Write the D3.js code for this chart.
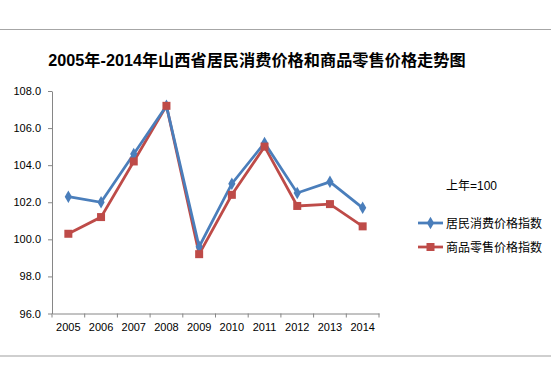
<!DOCTYPE html>
<html>
<head>
<meta charset="utf-8">
<script src="https://cdn.jsdelivr.net/npm/d3@7"></script>
<style>
body { margin: 0; background: #fff; }
text { font-family: "Liberation Sans", "Noto Sans CJK SC", sans-serif; fill: #000; }
.axis path, .axis line { stroke: #868686; }
.axis text { font-size: 11px; }
</style>
</head>
<body>
<script>
var years = ["2005","2006","2007","2008","2009","2010","2011","2012","2013","2014"];
var cpi = [102.3, 102.0, 104.6, 107.2, 99.6, 103.0, 105.2, 102.5, 103.1, 101.7];
var rpi = [100.3, 101.2, 104.2, 107.2, 99.2, 102.4, 105.0, 101.8, 101.9, 100.7];
var seriesNames = ["居民消费价格指数", "商品零售价格指数"];
var yTicks = [96, 98, 100, 102, 104, 106, 108];

var svg = d3.select("body").append("svg").attr("width", 551).attr("height", 389);

// frame lines top and bottom
svg.append("line").attr("x1", 0).attr("x2", 551).attr("y1", 29.5).attr("y2", 29.5)
   .attr("stroke", "#a6a6a6").attr("stroke-width", 1);
svg.append("line").attr("x1", 0).attr("x2", 551).attr("y1", 356).attr("y2", 356)
   .attr("stroke", "#bfbfbf").attr("stroke-width", 1.5);

svg.append("text")
   .attr("x", 257).attr("y", 66)
   .attr("text-anchor", "middle")
   .style("font-size", "16.2px").style("font-weight", "bold")
   .text("2005年-2014年山西省居民消费价格和商品零售价格走势图");

var x = d3.scaleBand().domain(years).range([52, 379]);
var y = d3.scaleLinear().domain([96, 108]).range([313.5, 91]);

svg.append("g").attr("class", "axis")
   .attr("transform", "translate(52,0)")
   .call(d3.axisLeft(y).tickValues(yTicks).tickFormat(d3.format(".1f")).tickSize(4).tickSizeOuter(0))
   .call(function(g) { g.selectAll("text").attr("x", -11).style("font-size", "11px"); });

var xAxis = svg.append("g").attr("class", "axis")
   .attr("transform", "translate(0,313.5)")
   .call(d3.axisBottom(x).tickSize(0).tickSizeOuter(0));
xAxis.selectAll("text").attr("dy", "1.3em");
// tick marks between categories
xAxis.selectAll(".sep").data(years.concat(["end"])).enter().append("line")
   .attr("x1", function(d, i) { return 52 + i * x.step(); })
   .attr("x2", function(d, i) { return 52 + i * x.step(); })
   .attr("y1", 0).attr("y2", 4).attr("stroke", "#868686");

var line = d3.line()
   .x(function(d, i) { return x(years[i]) + x.bandwidth() / 2; })
   .y(function(d) { return y(d); });

var colors = ["#4a7ebb", "#be4b48"];

svg.append("path").datum(rpi).attr("d", line)
   .attr("fill", "none").attr("stroke", colors[1]).attr("stroke-width", 2.75);
svg.append("path").datum(cpi).attr("d", line)
   .attr("fill", "none").attr("stroke", colors[0]).attr("stroke-width", 2.75);

var diamond = d3.symbol().type(d3.symbolDiamond).size(45);

svg.selectAll(".cpi-pt").data(cpi).enter().append("path")
   .attr("class", "cpi-pt")
   .attr("d", diamond)
   .attr("transform", function(d, i) { return "translate(" + (x(years[i]) + x.bandwidth() / 2) + "," + y(d) + ")"; })
   .attr("fill", colors[0]);

svg.selectAll(".rpi-pt").data(rpi).enter().append("rect")
   .attr("class", "rpi-pt")
   .attr("x", function(d, i) { return x(years[i]) + x.bandwidth() / 2 - 4; })
   .attr("y", function(d) { return y(d) - 4; })
   .attr("width", 8).attr("height", 8)
   .attr("fill", colors[1]);

// legend
svg.append("text").attr("x", 446).attr("y", 190).style("font-size", "12px").text("上年=100");

var legend = svg.selectAll(".leg").data(seriesNames).enter().append("g")
   .attr("transform", function(d, i) { return "translate(418," + (223 + i * 24) + ")"; });
legend.append("line").attr("x1", 0).attr("x2", 25).attr("y1", 0).attr("y2", 0)
   .attr("stroke", function(d, i) { return colors[i]; }).attr("stroke-width", 2.75);
legend.filter(function(d, i) { return i === 0; }).append("path")
   .attr("d", diamond).attr("transform", "translate(12.5,0)").attr("fill", colors[0]);
legend.filter(function(d, i) { return i === 1; }).append("rect")
   .attr("x", 8.5).attr("y", -4).attr("width", 8).attr("height", 8).attr("fill", colors[1]);
legend.append("text").attr("x", 28).attr("y", 4.5).style("font-size", "12px").text(function(d) { return d; });
</script>
</body>
</html>
